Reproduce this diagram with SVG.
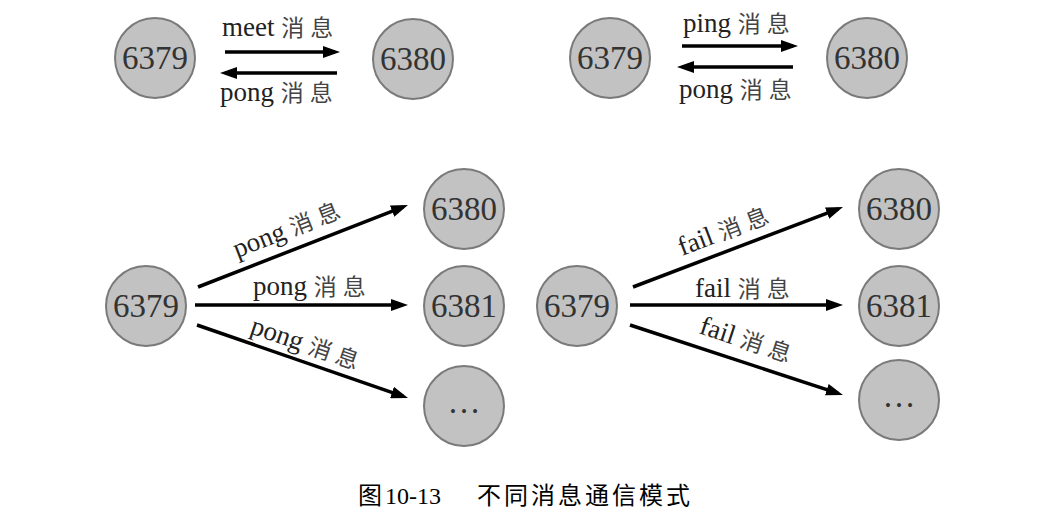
<svg xmlns="http://www.w3.org/2000/svg" width="1048" height="510" viewBox="0 0 1048 510">
<defs>
<marker id="ah" markerUnits="userSpaceOnUse" markerWidth="18" markerHeight="12" refX="12" refY="6" orient="auto"><path d="M0,0 L17,6 L0,12 z" fill="#000"/></marker>
</defs>
<style>
.node circle{fill:#c2c2c2;stroke:#7a7a7a;stroke-width:2}
.num{font-family:"Liberation Serif",serif;font-size:33px;fill:#333;text-anchor:middle}
.edge{stroke:#000;stroke-width:3.5;fill:none;marker-end:url(#ah)}
.lbl{font-family:"Liberation Serif","Noto Sans CJK SC",serif;font-size:27px;fill:#222}
.cjk{font-family:"Noto Sans CJK SC",sans-serif;font-size:23px;letter-spacing:6px;fill:#444}
.cap{font-family:"Liberation Serif","Noto Sans CJK SC",serif;font-size:24px;fill:#000}
.capc{font-family:"Noto Sans CJK SC",sans-serif;letter-spacing:3px}
</style>
<rect width="1048" height="510" fill="#fff"/>

<!-- Panel 1: meet / pong -->
<g id="p1-6379" class="node"><circle cx="155" cy="58" r="40"/><text class="num" x="155" y="69">6379</text></g>
<g id="p1-6380" class="node"><circle cx="413" cy="59" r="40"/><text class="num" x="413" y="70">6380</text></g>

<!-- Panel 2: ping / pong -->
<g id="p2-6379" class="node"><circle cx="610" cy="58" r="40"/><text class="num" x="610" y="69">6379</text></g>
<g id="p2-6380" class="node"><circle cx="867" cy="58" r="40"/><text class="num" x="867" y="69">6380</text></g>

<!-- Panel 3: pong broadcast -->
<g id="p3-6379" class="node"><circle cx="146" cy="306" r="40"/><text class="num" x="146" y="317">6379</text></g>
<g id="p3-6380" class="node"><circle cx="464" cy="209" r="40"/><text class="num" x="464" y="220">6380</text></g>
<g id="p3-6381" class="node"><circle cx="464" cy="306" r="40"/><text class="num" x="464" y="317">6381</text></g>
<g id="p3-more" class="node"><circle cx="464" cy="406" r="40"/><text class="num" x="464" y="413">…</text></g>

<!-- Panel 4: fail broadcast -->
<g id="p4-6379" class="node"><circle cx="577" cy="306" r="40"/><text class="num" x="577" y="317">6379</text></g>
<g id="p4-6380" class="node"><circle cx="899" cy="209" r="40"/><text class="num" x="899" y="220">6380</text></g>
<g id="p4-6381" class="node"><circle cx="899" cy="306" r="40"/><text class="num" x="899" y="317">6381</text></g>
<g id="p4-more" class="node"><circle cx="899" cy="400" r="40"/><text class="num" x="899" y="407">…</text></g>

<g id="connectors">
<path class="edge" d="M225,52 L335,52"/>
<path class="edge" d="M337,73 L225,73"/>
<path class="edge" d="M682,46 L793,46"/>
<path class="edge" d="M793,67 L682,67"/>
<path class="edge" d="M198,287 L403.3,206.8"/>
<path class="edge" d="M195,305 L403,305"/>
<path class="edge" d="M197,325 L403.3,396.4"/>
<path class="edge" d="M633,287 L838.3,208.8"/>
<path class="edge" d="M630,305 L838,305"/>
<path class="edge" d="M630,325 L838.2,393.4"/>
</g>

<g id="labels">
<text class="lbl" x="222" y="36">meet <tspan class="cjk">消息</tspan></text>
<text class="lbl" x="220" y="101">pong <tspan class="cjk">消息</tspan></text>
<text class="lbl" x="683" y="32">ping <tspan class="cjk">消息</tspan></text>
<text class="lbl" x="679" y="98">pong <tspan class="cjk">消息</tspan></text>
<text class="lbl" x="237" y="258" transform="rotate(-21.3 237 258)">pong <tspan class="cjk">消息</tspan></text>
<text class="lbl" x="253" y="295">pong <tspan class="cjk">消息</tspan></text>
<text class="lbl" x="249" y="333" transform="rotate(19.1 249 333)">pong <tspan class="cjk">消息</tspan></text>
<text class="lbl" x="682" y="256" transform="rotate(-20.9 682 256)">fail <tspan class="cjk">消息</tspan></text>
<text class="lbl" x="695" y="297">fail <tspan class="cjk">消息</tspan></text>
<text class="lbl" x="698" y="333" transform="rotate(18.2 698 333)">fail <tspan class="cjk">消息</tspan></text>
</g>

<text class="cap" x="358" y="504"><tspan class="capc">图</tspan>10-13<tspan class="capc" x="477">不同消息通信模式</tspan></text>
</svg>
